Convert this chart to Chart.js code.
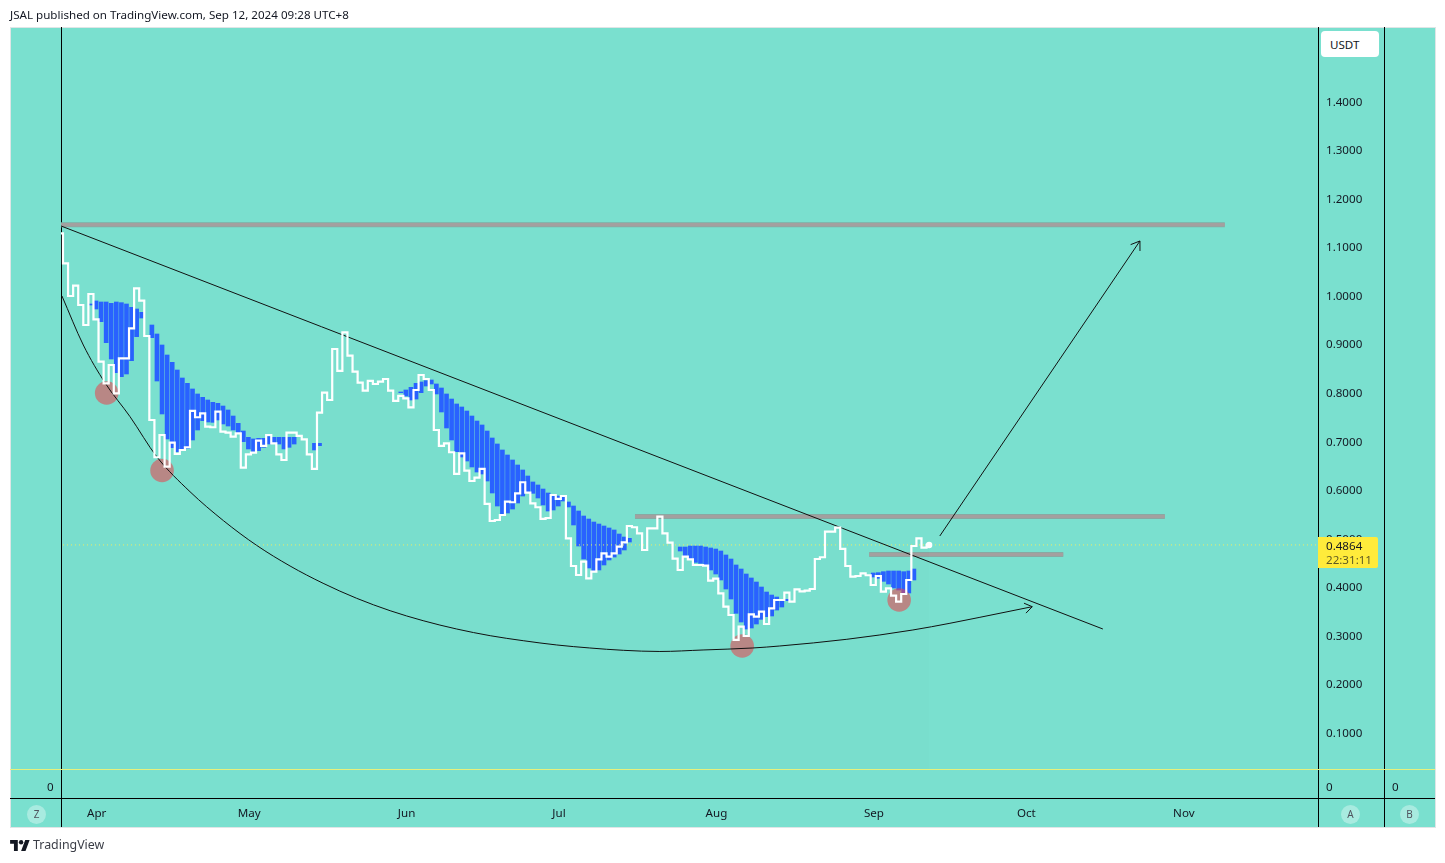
<!DOCTYPE html>
<html>
<head>
<meta charset="utf-8">
<title>JSAL chart</title>
<script src="https://cdn.jsdelivr.net/npm/chart.js@4"></script>
<style>
  html, body { margin: 0; padding: 0; background: #fff; }
  body { width: 1445px; height: 863px; position: relative; overflow: hidden; font-family: "Noto Sans", sans-serif; color: #131722; }
  .abs { position: absolute; }
  #pane { left: 10px; top: 27px; width: 1424px; height: 799px; background: #7ae0cf; border: 1px solid #dfe5e6; border-left-width: 1px; }
  .vline { top: 27px; width: 1px; height: 800px; background: #000; }
  #timeLine { left: 10px; top: 798px; width: 1425px; height: 1px; background: #000; }
  #paneLine { left: 10px; top: 769px; width: 1425px; height: 1px; background: #e6f07c; }
  canvas { position: absolute; left: 0; top: 0; }
  .txt { position: absolute; font-size: 11.6px; line-height: 16px; white-space: nowrap; }
  .btn { position: absolute; width: 19px; height: 19px; border-radius: 50%; background: rgba(255,255,255,.35); color: #50535e; font-size: 10px; line-height: 19px; text-align: center; }
  #unit { left: 1321px; top: 31px; width: 58px; height: 26px; background: #fff; border-radius: 4px; }
  #tag { left: 1318px; top: 537px; width: 60px; height: 31px; background: #ffeb3b; border-radius: 0 2px 2px 0; }
</style>
</head>
<body>
<div class="abs" id="pane"></div>
<div class="abs vline" style="left:61px"></div>
<div class="abs vline" style="left:1318px"></div>
<div class="abs vline" style="left:1384px"></div>
<div class="abs" id="paneLine"></div>
<div class="abs" id="timeLine"></div>
<canvas id="chart" width="1445" height="863"></canvas>

<div class="txt" style="left:10px;top:7px;color:#131722">JSAL published on TradingView.com, Sep 12, 2024 09:28 UTC+8</div>
<div class="abs" id="unit"></div>
<div class="txt" style="left:1330px;top:37px">USDT</div>
<div class="abs" id="tag"></div>
<div class="txt" style="left:1326px;top:538px">0.4864</div>
<div class="txt" style="left:1326px;top:552px;color:#5f5a24">22:31:11</div>
<div class="txt" style="left:47px;top:779px">0</div>
<div class="txt" style="left:1326px;top:779px">0</div>
<div class="txt" style="left:1392px;top:779px">0</div>
<div class="btn" style="left:27px;top:805px">Z</div>
<div class="btn" style="left:1341px;top:805px">A</div>
<div class="btn" style="left:1400px;top:805px">B</div>
<svg class="abs" style="left:10px;top:840px" width="20" height="11" viewBox="0 0 36 20">
  <path d="M14 20H7V7H0V0h14v20zM28 20h-8l7.5-20h8L28 20z" fill="#131722"/>
  <circle cx="20" cy="4" r="4" fill="#131722"/>
</svg>
<div class="txt" style="left:33px;top:837px;font-size:12.4px;color:#3b3e47">TradingView</div>

<script>
// days are counted from Apr 1 2024, one white step and one blue bar per day
const firstDay = -6;
const openPrice = 1.1284;

const whiteLine = [
  1.0666, 0.9992, 1.0205, 0.9807, 0.9395, 1.0034,
  0.9512, 0.8639, 0.8194, 0.8571, 0.7988, 0.8709, 0.8709, 0.9327, 1.0151, 0.9896,
  0.9168, 0.7438, 0.6670, 0.7129, 0.6476, 0.6970, 0.6738, 0.6820, 0.6876, 0.7624,
  0.7494, 0.7576, 0.7300, 0.7288, 0.7609, 0.7197, 0.7176, 0.7094, 0.7164, 0.6455,
  0.6731, 0.6764, 0.7012, 0.6903, 0.7129, 0.6958, 0.6731, 0.6614, 0.7176, 0.7176,
  0.7109, 0.7040, 0.6731, 0.6429, 0.7589, 0.8000, 0.7850, 0.8901, 0.8448, 0.9245,
  0.8763, 0.8433, 0.8207, 0.8042, 0.8242, 0.8180, 0.8227, 0.8283, 0.8042, 0.7830,
  0.7933, 0.7885, 0.7700, 0.8056, 0.8365, 0.8283, 0.8056, 0.7232, 0.6903, 0.6958,
  0.6773, 0.6326, 0.6752, 0.6393, 0.6181, 0.6249, 0.6429, 0.5708, 0.5357, 0.5378,
  0.5481, 0.5755, 0.5743, 0.5928, 0.6155, 0.5940, 0.5722, 0.5640, 0.5399, 0.5419,
  0.5893, 0.5811, 0.5872, 0.5001, 0.4430, 0.4245, 0.4519, 0.4177, 0.4313, 0.4568,
  0.4692, 0.4622, 0.4692, 0.4828, 0.4918, 0.5254, 0.5228, 0.5104, 0.4760, 0.5207,
  0.5207, 0.5446, 0.5104, 0.4910, 0.4581, 0.4348, 0.4622, 0.4568, 0.4451, 0.4451,
  0.4437, 0.4127, 0.4169, 0.3868, 0.3592, 0.3421, 0.2906, 0.3180, 0.2988, 0.3435,
  0.3386, 0.3489, 0.3235, 0.3559, 0.3730, 0.3730, 0.3880, 0.3695, 0.3950, 0.3909,
  0.3921, 0.3956, 0.4574, 0.4610, 0.5137, 0.5137, 0.5219, 0.4781, 0.4430, 0.4210,
  0.4224, 0.4280, 0.4239, 0.4039, 0.4224, 0.3901, 0.3971, 0.3818, 0.3695, 0.3853,
  0.4142, 0.4842, 0.5001, 0.4807, 0.4864
];

const blueTop = [
  null, null, null, null, null, 0.9828,
  0.9890, 0.9869, 0.9869, 0.9841, 0.9869, 0.9855, 0.9828, 0.9759, 0.9725, 0.9656,
  null, 0.9395, 0.9210, 0.8983, 0.8777, 0.8626, 0.8468, 0.8303, 0.8193, 0.8077,
  0.7974, 0.7905, 0.7850, 0.7802, 0.7781, 0.7726, 0.7644, 0.7520, 0.7369, 0.7211,
  0.7081, 0.7047, 0.7060, 0.7060, 0.7095, 0.7081, 0.7081, 0.7081, 0.7081, 0.7081,
  null, null, null, 0.6957, 0.6957, null, null, null, null, null,
  null, null, null, null, null, null, null, null, null, null,
  0.8015, 0.8056, 0.8111, 0.8193, 0.8221, 0.8248, 0.8262, 0.8180, 0.8097, 0.7974,
  0.7870, 0.7768, 0.7706, 0.7623, 0.7520, 0.7417, 0.7335, 0.7211, 0.7067, 0.6944,
  0.6820, 0.6717, 0.6614, 0.6511, 0.6408, 0.6284, 0.6161, 0.6099, 0.6016, 0.5934,
  0.5893, 0.5872, 0.5845, 0.5749, 0.5666, 0.5563, 0.5460, 0.5398, 0.5336, 0.5295,
  0.5254, 0.5213, 0.5172, 0.5089, 0.5027, 0.5000, null, null, null, null,
  null, null, null, null, null, 0.4821, 0.4821, 0.4842, 0.4842, 0.4842,
  0.4821, 0.4801, 0.4780, 0.4739, 0.4657, 0.4574, 0.4451, 0.4368, 0.4265, 0.4183,
  0.4100, 0.3997, 0.3894, 0.3832, 0.3791, 0.3709, 0.3743, null, null, null,
  null, null, null, null, null, null, null, null, null, null,
  null, null, null, 0.4286, 0.4293, 0.4313, 0.4327, 0.4327, 0.4327, 0.4313,
  0.4327, 0.4368, null, null, null
];

const blueBottom = [
  null, null, null, null, null, 0.9807,
  0.9725, 0.9464, 0.9031, 0.8695, 0.8413, 0.8331, 0.8386, 0.8660, 0.9155, 0.9539,
  null, 0.9134, 0.8241, 0.7562, 0.7047, 0.6868, 0.6786, 0.6806, 0.6854, 0.7026,
  0.7232, 0.7424, 0.7397, 0.7390, 0.7438, 0.7356, 0.7314, 0.7232, 0.7163, 0.6992,
  0.6841, 0.6772, 0.6806, 0.6875, 0.6943, 0.6971, 0.6943, 0.6841, 0.6875, 0.6943,
  null, null, null, 0.6820, 0.6909, null, null, null, null, null,
  null, null, null, null, null, null, null, null, null, null,
  0.8001, 0.7932, 0.7850, 0.7870, 0.8001, 0.8138, 0.8180, 0.7974, 0.7603, 0.7273,
  0.7026, 0.6785, 0.6676, 0.6593, 0.6470, 0.6366, 0.6325, 0.6181, 0.5934, 0.5666,
  0.5501, 0.5522, 0.5604, 0.5728, 0.5872, 0.5955, 0.5927, 0.5831, 0.5687, 0.5563,
  0.5584, 0.5666, 0.5769, 0.5646, 0.5275, 0.4842, 0.4574, 0.4389, 0.4327, 0.4348,
  0.4451, 0.4554, 0.4615, 0.4677, 0.4760, 0.4924, null, null, null, null,
  null, null, null, null, null, 0.4739, 0.4636, 0.4567, 0.4505, 0.4485,
  0.4451, 0.4348, 0.4265, 0.4142, 0.3956, 0.3750, 0.3455, 0.3276, 0.3132, 0.3153,
  0.3235, 0.3331, 0.3386, 0.3400, 0.3523, 0.3585, 0.3716, null, null, null,
  null, null, null, null, null, null, null, null, null, null,
  null, null, null, 0.4203, 0.4176, 0.4114, 0.4059, 0.3977, 0.3935, 0.3867,
  0.3874, 0.4142, null, null, null
];

// hand drawn arc: [day, price]
const arcDays = [-6.7, -2.5, 1.8, 6.7, 12, 18.5, 25.1, 31.6, 38.2, 44.7, 51.3, 57.9, 64.4, 71, 77.6, 84.1, 90.7, 97.2, 103.8, 111, 119.5, 129.3, 134.6, 147.8, 160.8, 168.1, 174, 184.3];
const arcPrices = [0.9993, 0.8983, 0.8200, 0.7506, 0.6676, 0.5961, 0.5363, 0.4857, 0.4430, 0.4074, 0.3765, 0.3509, 0.3303, 0.3132, 0.2994, 0.2891, 0.2803, 0.2741, 0.2693, 0.2669, 0.2700, 0.2741, 0.2782, 0.2920, 0.3112, 0.3250, 0.3373, 0.3592];

const trendDays = [-6.89, 198.2];
const trendPrices = [1.1435, 0.3132];
const arrowDays = [166.1, 205.5];
const arrowPrices = [0.5048, 1.1126];

const levels = [
  { from: -6.89, to: 222.2, price: 1.1461 },
  { from: 106.1, to: 210.4, price: 0.5450 },
  { from: 152.2, to: 190.4, price: 0.4666 }
];

const circleDays = [2.1, 13, 127.2, 158.1];
const circlePrices = [0.7994, 0.6397, 0.2782, 0.3729];

const lastPrice = 0.4864;
const lastDay = 164;

const monthDays = [0, 30, 61, 91, 122, 153, 183, 214];
const monthLabels = ['Apr', 'May', 'Jun', 'Jul', 'Aug', 'Sep', 'Oct', 'Nov'];
const priceTicks = [0.1, 0.2, 0.3, 0.4, 0.5, 0.6, 0.7, 0.8, 0.9, 1.0, 1.1, 1.2, 1.3, 1.4];

const FONT = '"Noto Sans", sans-serif';
const dayOf = i => firstDay + i;

const whitePoints = [{ x: firstDay - 1, y: openPrice }].concat(whiteLine.map((v, i) => ({ x: dayOf(i), y: v })));
const bluePoints = blueTop.map((t, i) => t === null ? null : { x: dayOf(i), y: [blueBottom[i], t] }).filter(Boolean);

function pair(xs, ys) { return xs.map((x, i) => ({ x: x, y: ys[i] })); }

const levelSets = [];
levels.forEach(l => {
    const pts = [{ x: l.from, y: l.price }, { x: l.to, y: l.price }];
    levelSets.push({ type: 'line', data: pts, borderColor: '#82aba3', borderWidth: 5, pointRadius: 0, order: 6 });
    levelSets.push({ type: 'line', data: pts, borderColor: '#a3a09f', borderWidth: 3.4, pointRadius: 0, order: 5 });
});

const arrowHeads = {
    id: 'arrowHeads',
    afterDatasetsDraw(chart) {
        const ctx = chart.ctx;
        chart.data.datasets.forEach((ds, n) => {
            if (!ds.arrowSize) return;
            const pts = chart.getDatasetMeta(n).data;
            const a = pts[pts.length - 2], b = pts[pts.length - 1];
            const ang = Math.atan2(b.y - a.y, b.x - a.x);
            ctx.save();
            ctx.strokeStyle = ds.borderColor;
            ctx.lineWidth = 1;
            ctx.beginPath();
            [-0.6, 0.6].forEach(t => {
                ctx.moveTo(b.x, b.y);
                ctx.lineTo(b.x - ds.arrowSize * Math.cos(ang + t), b.y - ds.arrowSize * Math.sin(ang + t));
            });
            ctx.stroke();
            ctx.restore();
        });
    }
};

// the tick text sits about a pixel lower (and on x, a bit further right) than the tick position
const nudgeLabels = {
    id: 'nudgeLabels',
    beforeDraw(chart) {
        if (chart.$nudged) return;
        chart.$nudged = true;
        chart.scales.y.getLabelItems().forEach(it => { it.options.translation[1] += 1; });
        chart.scales.x.getLabelItems().forEach(it => { it.options.translation[0] += 0.7; });
    }
};

new Chart(document.getElementById('chart').getContext('2d'), {
    type: 'bar',
    plugins: [arrowHeads, nudgeLabels],
    data: {
        datasets: [
            { type: 'line', data: [{ x: lastDay, y: lastPrice }], borderColor: '#fff', backgroundColor: '#fff', pointRadius: 3.2, pointBorderWidth: 0, showLine: false, order: 0 },
            { type: 'line', data: whitePoints, stepped: 'middle', borderColor: '#fff', borderWidth: 2.2, pointRadius: 0, fill: 'start', backgroundColor: 'rgba(0,60,60,0.008)', order: 1 },
            { type: 'line', data: pair(arcDays, arcPrices), borderColor: '#111', borderWidth: 1, pointRadius: 0, cubicInterpolationMode: 'monotone', arrowSize: 9, order: 2 },
            { type: 'line', data: pair(trendDays, trendPrices), borderColor: '#111', borderWidth: 1, pointRadius: 0, order: 2 },
            { type: 'line', data: pair(arrowDays, arrowPrices), borderColor: '#111', borderWidth: 1, pointRadius: 0, arrowSize: 10, order: 2 },
            { type: 'line', data: pair(circleDays, circlePrices), showLine: false, pointRadius: 11.8, pointBorderWidth: 0, pointBorderColor: 'transparent', backgroundColor: 'rgba(238,63,75,0.55)', order: 3 },
            { type: 'line', data: pair([monthDays[0] - 6.5, 240.5], [lastPrice, lastPrice]), borderColor: '#f2ee62', borderWidth: 1, borderDash: [1, 3], pointRadius: 0, order: 4 },
            ...levelSets,
            { type: 'bar', data: bluePoints, backgroundColor: '#2962ff', barThickness: 4, order: 8 }
        ]
    },
    options: {
        responsive: false,
        animation: false,
        devicePixelRatio: 1,
        layout: { padding: { left: 61, right: 61, top: 27, bottom: 36 } },
        plugins: { legend: { display: false }, tooltip: { enabled: false } },
        scales: {
            x: {
                type: 'linear',
                offset: false,
                min: -6.89,
                max: 240.55,
                grid: { display: false, drawTicks: false },
                border: { display: false },
                afterFit(s) { s.height = 58; },
                afterBuildTicks(s) { s.ticks = monthDays.map(v => ({ value: v })); },
                ticks: {
                    autoSkip: false, maxRotation: 0, padding: 38, color: '#131722',
                    font: { family: FONT, size: 11.6 },
                    callback: (v, i) => monthLabels[i]
                }
            },
            y: {
                position: 'right',
                min: 0.02478,
                max: 1.55344,
                grid: { display: false, drawTicks: false },
                border: { display: false },
                afterFit(s) { s.width = 66; },
                afterBuildTicks(s) { s.ticks = priceTicks.map(v => ({ value: v })); },
                ticks: {
                    autoSkip: false, padding: 8, color: '#131722',
                    font: { family: FONT, size: 11.6 },
                    callback: v => v.toFixed(4)
                }
            }
        }
    }
});
</script>
</body>
</html>
